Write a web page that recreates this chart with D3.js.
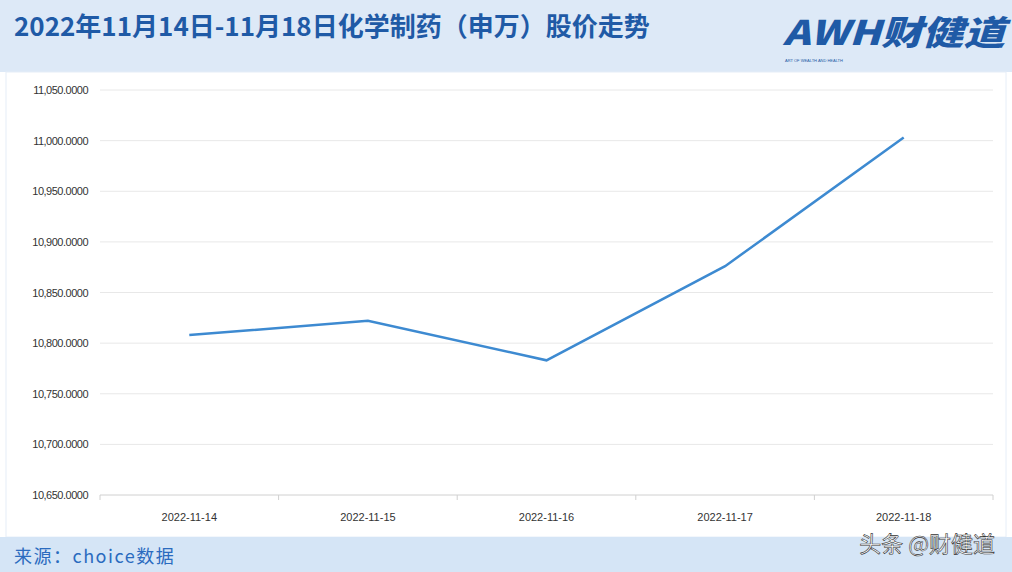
<!DOCTYPE html>
<html><head><meta charset="utf-8">
<script src="https://cdn.jsdelivr.net/npm/d3@7/dist/d3.min.js"></script>
<style>body{margin:0}svg{display:block}</style></head>
<body><svg id="c" width="1012" height="572"></svg>
<script>
const categories=["2022-11-14","2022-11-15","2022-11-16","2022-11-17","2022-11-18"];
const values=[10808,10822,10783,10876,11003];
const yTicks=[10650,10700,10750,10800,10850,10900,10950,11000,11050];
const svg=d3.select("#c");
const cjk="'Noto Sans CJK SC','Noto Sans',sans-serif";
svg.append("rect").attr("width",1012).attr("height",572).attr("fill","#fff");
svg.append("rect").attr("width",1012).attr("height",72).attr("fill","#dde9f7");
svg.append("rect").attr("x",6).attr("y",72).attr("width",1000).attr("height",465).attr("fill","#fff").attr("stroke","#e6eef8");
svg.append("rect").attr("y",537).attr("width",1012).attr("height",35).attr("fill","#d5e5f6");
svg.append("text").attr("x",14).attr("y",36).attr("font-family",cjk).attr("font-size",26).attr("font-weight","bold").attr("fill","#1f5aa6").text("2022年11月14日-11月18日化学制药（申万）股价走势");
svg.append("text").attr("x",783).attr("y",45).attr("textLength",222).attr("lengthAdjust","spacingAndGlyphs").attr("font-family",cjk).attr("font-size",34).attr("font-weight","900").attr("font-style","italic").attr("fill","#1f5aa6").text("AWH财健道");
svg.append("text").attr("x",785).attr("y",62).attr("font-family","sans-serif").attr("font-size",4).attr("fill","#1f5aa6").text("ART OF WEALTH AND HEALTH");
svg.append("text").attr("x",14).attr("y",563).attr("font-family",cjk).attr("font-size",18).attr("letter-spacing",1.5).attr("fill","#2a6bbf").text("来源：choice数据");
svg.append("text").attr("x",995).attr("y",552).attr("text-anchor","end").attr("font-family",cjk).attr("font-size",22).attr("fill","#fff").attr("stroke","#333").attr("stroke-width",0.6).text("头条 @财健道");
const x=d3.scaleBand().domain(categories).range([100,993]);
const y=d3.scaleLinear().domain([10650,11050]).range([495,90]);
const g=svg.append("g");
yTicks.forEach(t=>{
 g.append("line").attr("x1",100).attr("x2",993).attr("y1",y(t)).attr("y2",y(t)).attr("stroke",t===10650?"#d0d0d0":"#e8e8e8");
 g.append("text").attr("x",88).attr("y",y(t)+4).attr("text-anchor","end").attr("font-family","'Liberation Sans',sans-serif").attr("font-size",11).attr("letter-spacing",-0.5).attr("fill","#333").text(d3.format(",.4f")(t));
});
categories.forEach((c,i)=>{
 g.append("line").attr("x1",x(c)).attr("x2",x(c)).attr("y1",495).attr("y2",500).attr("stroke","#d0d0d0");
 g.append("text").attr("x",x(c)+x.bandwidth()/2).attr("y",521).attr("text-anchor","middle").attr("font-family","'Liberation Sans',sans-serif").attr("font-size",11).attr("fill","#333").text(c);
});
g.append("line").attr("x1",993).attr("x2",993).attr("y1",495).attr("y2",500).attr("stroke","#d0d0d0");
const line=d3.line().x((d,i)=>x(categories[i])+x.bandwidth()/2).y(d=>y(d));
g.append("path").datum(values).attr("d",line).attr("fill","none").attr("stroke","#3d8ad1").attr("stroke-width",2.5);
</script></body></html>
